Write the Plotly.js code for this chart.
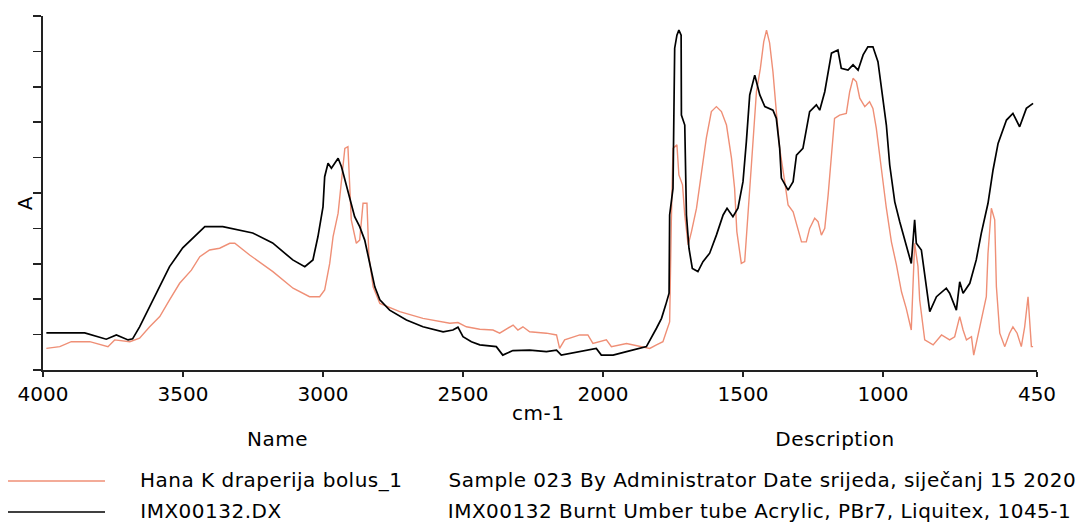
<!DOCTYPE html>
<html>
<head>
<meta charset="utf-8">
<script src="https://cdn.plot.ly/plotly-3.0.1.min.js"></script>
<style>
html,body{margin:0;padding:0;background:#fff;}
#chart{width:1091px;height:525px;}
#chart .annotation-text{letter-spacing:0.5px;}
</style>
</head>
<body>
<div id="chart"></div>
<script>
// Sample spectrum: Hana K draperija bolus_1
const wnHana = [3988,3940,3899,3833,3768,3744,3690,3655,3619,3583,
3548,3512,3470,3440,3405,3369,3333,3315,3262,3179,
3107,3048,3012,2994,2976,2964,2946,2934,2922,2911,
2907,2899,2881,2869,2857,2843,2836,2821,2797,2726,
2643,2547,2518,2488,2440,2393,2369,2321,2304,2286,
2262,2202,2166,2155,2137,2107,2083,2054,2036,1988,
1970,1916,1869,1833,1809,1786,1774,1762,1756,1750,
1736,1729,1716,1708,1696,1684,1666,1649,1631,1613,
1595,1577,1559,1541,1530,1522,1506,1494,1486,1470,
1452,1438,1426,1416,1405,1393,1381,1369,1351,1339,
1321,1304,1291,1274,1262,1244,1232,1220,1208,1196,
1184,1173,1155,1131,1119,1107,1095,1083,1065,1048,
1036,1024,1006,988,970,952,934,917,899,887,
875,869,851,821,791,762,744,726,714,702,
684,676,667,655,631,625,613,601,595,583,
565,548,536,521,506,494,482,470,464];
const absHana = [0.061,0.066,0.080,0.080,0.066,0.085,0.080,0.090,0.122,0.151,
0.198,0.245,0.282,0.320,0.339,0.344,0.358,0.358,0.325,0.278,
0.231,0.207,0.207,0.226,0.301,0.377,0.443,0.546,0.626,0.631,
0.546,0.424,0.358,0.367,0.471,0.471,0.320,0.235,0.188,0.165,
0.146,0.132,0.134,0.122,0.115,0.113,0.104,0.127,0.113,0.122,
0.108,0.104,0.099,0.061,0.085,0.094,0.099,0.099,0.075,0.085,
0.066,0.075,0.066,0.061,0.071,0.080,0.108,0.136,0.419,0.626,
0.636,0.551,0.523,0.438,0.353,0.391,0.457,0.560,0.655,0.730,
0.744,0.730,0.692,0.598,0.513,0.391,0.301,0.306,0.391,0.579,
0.786,0.852,0.927,0.960,0.924,0.842,0.730,0.626,0.532,0.466,
0.447,0.400,0.362,0.362,0.400,0.429,0.419,0.381,0.400,0.494,
0.607,0.711,0.720,0.725,0.786,0.824,0.814,0.768,0.744,0.758,
0.739,0.683,0.570,0.457,0.362,0.297,0.221,0.174,0.113,0.358,
0.292,0.198,0.085,0.071,0.099,0.085,0.094,0.151,0.113,0.085,
0.094,0.042,0.075,0.122,0.207,0.330,0.457,0.424,0.235,0.104,
0.066,0.104,0.122,0.104,0.066,0.122,0.207,0.066,0.066];

// Reference spectrum: IMX00132.DX
const wnImx = [3988,3851,3774,3738,3696,3680,3655,3619,3583,3548,
3501,3452,3422,3358,3298,3251,3180,3108,3065,3036,
3018,3000,2994,2982,2970,2958,2946,2934,2922,2905,
2887,2869,2851,2833,2815,2797,2762,2702,2643,2571,
2536,2518,2500,2470,2440,2381,2358,2322,2262,2202,
2166,2149,2083,2024,2006,1964,1916,1845,1809,1791,
1776,1764,1762,1750,1744,1736,1729,1721,1720,1708,
1702,1693,1681,1661,1643,1619,1595,1571,1557,1536,
1518,1500,1488,1476,1458,1440,1422,1393,1381,1369,
1363,1339,1321,1309,1286,1274,1262,1238,1226,1208,
1196,1184,1161,1149,1125,1107,1089,1071,1054,1036,
1018,1000,988,976,958,940,917,899,887,881,
863,851,833,809,774,762,738,726,714,690,
667,649,625,607,589,559,536,512,488,464];
const absImx = [0.105,0.105,0.087,0.099,0.085,0.088,0.122,0.179,0.235,0.292,
0.345,0.381,0.405,0.405,0.394,0.387,0.359,0.311,0.292,0.311,
0.377,0.461,0.546,0.584,0.570,0.584,0.598,0.574,0.537,0.490,
0.433,0.405,0.367,0.301,0.235,0.198,0.169,0.141,0.122,0.108,
0.113,0.121,0.094,0.080,0.071,0.066,0.042,0.055,0.056,0.052,
0.056,0.042,0.052,0.061,0.042,0.042,0.052,0.066,0.118,0.146,
0.184,0.217,0.438,0.513,0.909,0.946,0.960,0.946,0.720,0.692,
0.438,0.344,0.287,0.278,0.306,0.330,0.381,0.438,0.457,0.433,
0.457,0.532,0.645,0.777,0.833,0.777,0.744,0.734,0.711,0.626,
0.542,0.508,0.532,0.607,0.626,0.673,0.730,0.749,0.734,0.786,
0.843,0.895,0.904,0.852,0.847,0.862,0.847,0.890,0.913,0.913,
0.871,0.768,0.692,0.579,0.475,0.418,0.348,0.301,0.424,0.358,
0.339,0.264,0.165,0.207,0.231,0.217,0.169,0.249,0.217,0.245,
0.311,0.386,0.471,0.565,0.640,0.706,0.725,0.687,0.739,0.753];

const xTicks = [4000,3500,3000,2500,2000,1500,1000,450];
const xTickText = ["4000","3500","3000","2500","2000","1500","1000","450"];
const seriesNames = ["Hana K draperija bolus_1","IMX00132.DX"];
const seriesDesc = ["Sample 023 By Administrator Date srijeda, siječanj 15 2020",
                    "IMX00132 Burnt Umber tube Acrylic, PBr7, Liquitex, 1045-1"];
const seriesColors = ["#ef8f76","#000000"];
const yLabel = "A";
const xLabel = "cm-1";

const FONT = "DejaVu Sans, Verdana, sans-serif";
const SPACING = 0.5; // css letter-spacing on annotation text

const traces = [
  {x: wnHana, y: absHana, type: "scatter", mode: "lines", name: seriesNames[0],
   line: {color: seriesColors[0], width: 1.4}, showlegend: false, hoverinfo: "skip"},
  {x: wnImx, y: absImx, type: "scatter", mode: "lines", name: seriesNames[1],
   line: {color: seriesColors[1], width: 1.7}, showlegend: false, hoverinfo: "skip"}
];

const W = 1091, H = 525, L = 43, R = 54, T = 16, B = 155;
const pw = W - L - R, ph = H - T - B;
const px = v => (v - L) / pw;
const py = v => (H - B - v) / ph;
// left-anchored text: compensate for the extra letter spacing not measured by plotly
const leftX = (v, s) => px(v + s.length * SPACING / 2);

const annotations = [
  {text: yLabel, x: px(25), y: py(203), xref: "paper", yref: "paper", showarrow: false,
   textangle: -90, font: {family: FONT, size: 20, color: "#000"}, xanchor: "center", yanchor: "middle"},
  {text: xLabel, x: px(538), y: py(413), xref: "paper", yref: "paper", showarrow: false,
   font: {family: FONT, size: 20, color: "#000"}, xanchor: "center", yanchor: "middle"},
  {text: "Name", x: px(277), y: py(439), xref: "paper", yref: "paper", showarrow: false,
   font: {family: FONT, size: 20, color: "#000"}, xanchor: "center", yanchor: "middle"},
  {text: "Description", x: px(835), y: py(439), xref: "paper", yref: "paper", showarrow: false,
   font: {family: FONT, size: 20, color: "#000"}, xanchor: "center", yanchor: "middle"}
];
const rowY = [480, 511];
const shapes = [];
for (let i = 0; i < 2; i++) {
  annotations.push({text: seriesNames[i], x: leftX(138, seriesNames[i]), y: py(rowY[i]), xref: "paper", yref: "paper",
    showarrow: false, font: {family: FONT, size: 20, color: "#000"}, xanchor: "left", yanchor: "middle"});
  annotations.push({text: seriesDesc[i], x: leftX(446, seriesDesc[i]), y: py(rowY[i]), xref: "paper", yref: "paper",
    showarrow: false, font: {family: FONT, size: 20, color: "#000"}, xanchor: "left", yanchor: "middle"});
  shapes.push({type: "line", xref: "paper", yref: "paper", x0: px(8), x1: px(105),
    y0: py(rowY[i] + 1), y1: py(rowY[i] + 1), line: {color: seriesColors[i], width: i === 0 ? 1.4 : 1.7}});
}

const layout = {
  width: W, height: H,
  margin: {l: L, r: R, t: T, b: B, pad: 0},
  paper_bgcolor: "#fff", plot_bgcolor: "#fff",
  font: {family: FONT, size: 20, color: "#000"},
  xaxis: {
    range: [4000, 450], showgrid: false, zeroline: false,
    showline: true, linecolor: "#222", linewidth: 2,
    ticks: "outside", ticklen: 5, tickwidth: 1.5, tickcolor: "#222",
    tickvals: xTicks, ticktext: xTickText,
    tickfont: {family: FONT, size: 20, color: "#000"}
  },
  yaxis: {
    range: [0, 1], showgrid: false, zeroline: false,
    showline: true, linecolor: "#222", linewidth: 2,
    ticks: "outside", ticklen: 8, tickwidth: 1.5, tickcolor: "#222",
    dtick: 0.1, tick0: 0, showticklabels: false
  },
  annotations: annotations,
  shapes: shapes,
  showlegend: false
};

Plotly.newPlot("chart", traces, layout, {displayModeBar: false, staticPlot: true});
</script>
</body>
</html>
